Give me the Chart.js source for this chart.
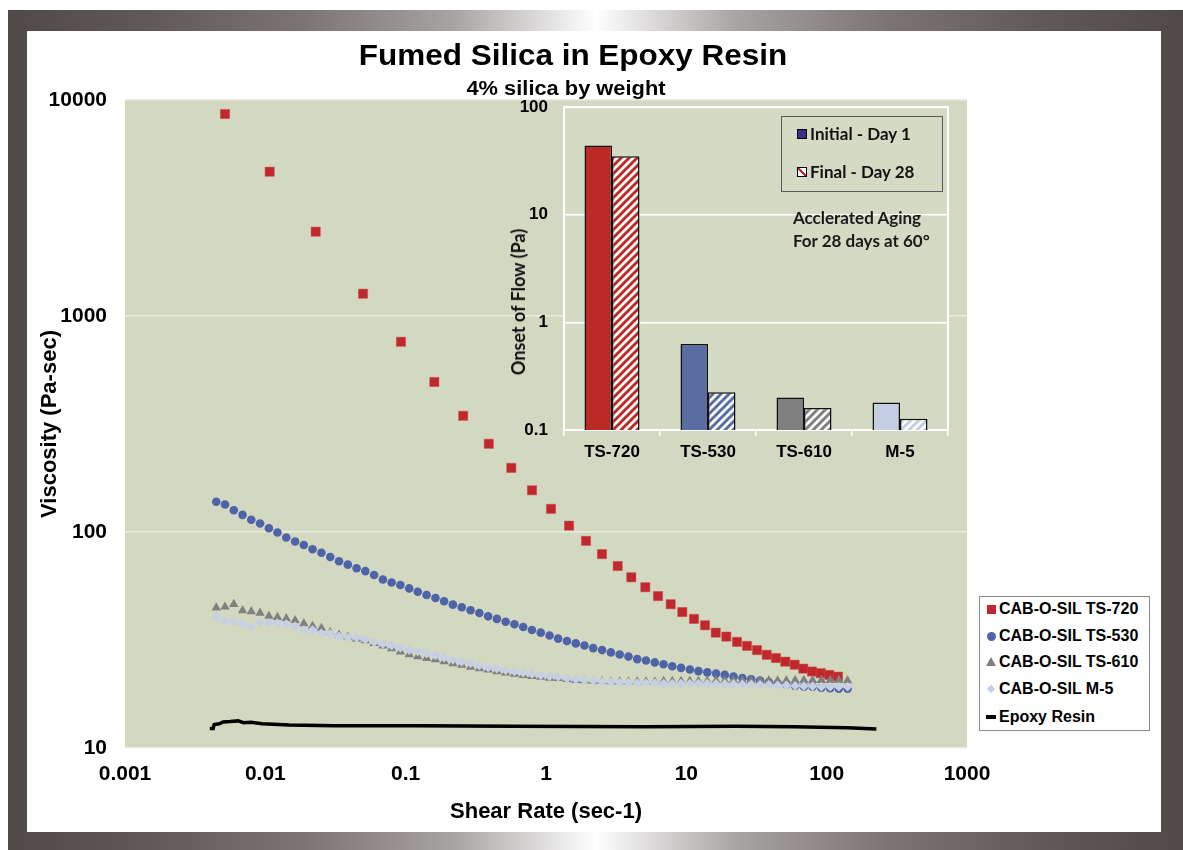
<!DOCTYPE html>
<html>
<head>
<meta charset="utf-8">
<script src="https://cdn.jsdelivr.net/npm/chart.js@4.4.1/dist/chart.umd.min.js"></script>
<style>
html,body{margin:0;padding:0;background:#fff;}
#wrap{position:relative;width:1183px;height:850px;overflow:hidden;font-family:"Liberation Sans",Arial,sans-serif;}
#frame{position:absolute;left:8px;top:10px;width:1175px;height:840px;
  background:linear-gradient(90deg,#4f4948 0%,#5f5958 12%,#7a7473 25%,#a8a4a3 38%,#e2e0e0 46%,#ffffff 50%,#e2e0e0 54%,#a8a4a3 62%,#7a7473 75%,#5f5958 88%,#4f4948 100%);}
#inner{position:absolute;left:27px;top:31px;width:1134px;height:801px;background:#fff;}
canvas{position:absolute;}
#main{left:0;top:0;}
#inset{left:490px;top:81px;}
.t{position:absolute;white-space:nowrap;font-weight:bold;color:#000;}
.lg{position:absolute;font-family:"Liberation Sans",Arial,sans-serif;font-weight:bold;font-size:16px;line-height:18px;white-space:nowrap;color:#000;}
.cal{font-family:Lato,"Open Sans",sans-serif;}
</style>
</head>
<body>
<div id="wrap">
  <div id="frame"></div>
  <div id="inner"></div>
  <canvas id="main" width="1183" height="850"></canvas>
  <canvas id="inset" width="475" height="399"></canvas>

  <div class="t" style="left:573px;top:41px;font-size:29px;line-height:29px;transform:translateX(-50%) scaleX(1.085);">Fumed Silica in Epoxy Resin</div>
  <div class="t" style="left:566px;top:78px;font-size:19.5px;line-height:20px;transform:translateX(-50%) scaleX(1.12);">4% silica by weight</div>

  <!-- main legend -->
  <div style="position:absolute;left:979px;top:596px;width:169px;height:133px;border:1px solid #8c8c8c;background:#fff;"></div>
  <div style="position:absolute;left:987px;top:605px;width:9px;height:9px;background:#c0282d;"></div>
  <div class="lg" style="left:999px;top:600px;">CAB-O-SIL TS-720</div>
  <div style="position:absolute;left:987px;top:632px;width:9px;height:9px;border-radius:50%;background:#4f63a8;"></div>
  <div class="lg" style="left:999px;top:627px;">CAB-O-SIL TS-530</div>
  <div style="position:absolute;left:986px;top:657px;width:0;height:0;border-left:5px solid transparent;border-right:5px solid transparent;border-bottom:9px solid #808080;"></div>
  <div class="lg" style="left:999px;top:653px;">CAB-O-SIL TS-610</div>
  <div style="position:absolute;left:988px;top:686px;width:6px;height:6px;transform:rotate(45deg);background:#c5cfe6;"></div>
  <div class="lg" style="left:999px;top:680px;">CAB-O-SIL M-5</div>
  <div style="position:absolute;left:986px;top:715px;width:10px;height:4px;background:#000;"></div>
  <div class="lg" style="left:999px;top:708px;">Epoxy Resin</div>

  <!-- inset legend and notes -->
  <div style="position:absolute;left:781px;top:116px;width:160px;height:74px;border:1px solid #5a5a5a;"></div>
  <div style="position:absolute;left:797px;top:129px;width:10px;height:10px;box-sizing:border-box;border:1px solid #000;background:#3c2d8a;"></div>
  <div class="t cal" style="left:810px;top:124px;font-size:17px;line-height:20px;color:#111;">Initial - Day 1</div>
  <div style="position:absolute;left:797px;top:167px;width:10px;height:10px;box-sizing:border-box;border:1px solid #000;background:linear-gradient(to top right,#fff 38%,#c0282d 38%,#c0282d 62%,#fff 62%);"></div>
  <div class="t cal" style="left:810px;top:162px;font-size:17px;line-height:20px;color:#111;">Final - Day 28</div>
  <div class="t cal" style="left:793px;top:208px;font-size:17px;line-height:20px;color:#1a1a1a;">Acclerated Aging</div>
  <div class="t cal" style="left:793px;top:231px;font-size:17px;line-height:20px;color:#1a1a1a;">For 28 days at 60°</div>
  <div class="t cal" style="left:518px;top:302px;font-size:18px;line-height:20px;color:#111;transform:translate(-50%,-50%) rotate(-90deg);">Onset of Flow (Pa)</div>
</div>

<script>
// ---------------- data ----------------
const xTickValues = [0.001, 0.01, 0.1, 1, 10, 100, 1000];
const xTickLabels = ["0.001", "0.01", "0.1", "1", "10", "100", "1000"];
const yTickValues = [10, 100, 1000, 10000];
const yTickLabels = ["10", "100", "1000", "10000"];

// shared shear-rate sweep (sec-1) for TS-530, TS-610 and M-5
const shearRate = [0.00447, 0.00516, 0.00596, 0.00688, 0.00794, 0.00917,
  0.0106, 0.0122, 0.0141, 0.0163, 0.0188, 0.0217, 0.0251, 0.0290, 0.0335, 0.0387,
  0.0447, 0.0516, 0.0596, 0.0688, 0.0794, 0.0917,
  0.106, 0.122, 0.141, 0.163, 0.188, 0.217, 0.251, 0.290, 0.335, 0.387,
  0.447, 0.516, 0.596, 0.688, 0.794, 0.917,
  1.06, 1.22, 1.41, 1.63, 1.88, 2.17, 2.51, 2.90, 3.35, 3.87,
  4.47, 5.16, 5.96, 6.88, 7.94, 9.17,
  10.6, 12.2, 14.1, 16.3, 18.8, 21.7, 25.1, 29.0, 33.5, 38.7,
  44.7, 51.6, 59.6, 68.8, 79.4, 91.7,
  106, 122, 141];

const ts530Viscosity = [138, 134, 126, 120, 114, 109.5, 104, 99.5, 94.3, 90.4,
  87.1, 83.2, 80.1, 76.6, 73.2, 70.6, 67.9, 65.9, 63.2, 60.3,
  58.4, 56.8, 54.8, 52.9, 51.1, 49.5, 47.8, 46.1, 44.8, 43.4,
  42.2, 40.7, 39.6, 38.4, 37.4, 36.3, 35.2, 34.2, 33.2, 32.1,
  31.3, 30.5, 29.8, 29.0, 28.4, 27.7, 27.1, 26.5, 25.8, 25.4,
  24.9, 24.4, 23.9, 23.5, 23.1, 22.7, 22.4, 22.1, 21.8, 21.4,
  21.1, 20.8, 20.5, 20.2, 19.9, 19.7, 19.4, 19.2, 19.2, 19.0,
  18.9, 18.8, 18.8];

const ts610Viscosity = [44.6, 45.0, 46.3, 43.3, 42.8, 42.2, 40.8, 40.3, 39.8, 39.0,
  37.7, 36.7, 35.9, 34.3, 33.4, 32.7, 32.0, 31.4, 30.5, 29.7,
  28.9, 27.9, 27.1, 26.5, 26.0, 25.7, 25.1, 24.6, 24.2, 23.7,
  23.3, 23.0, 22.6, 22.3, 22.0, 21.7, 21.5, 21.3, 21.1, 21.0,
  20.8, 20.6, 20.5, 20.4, 20.4, 20.3, 20.3, 20.3, 20.3, 20.3,
  20.3, 20.4, 20.4, 20.4, 20.4, 20.4, 20.4, 20.5, 20.5, 20.5,
  20.5, 20.5, 20.5, 20.5, 20.5, 20.5, 20.6, 20.6, 20.6, 20.6,
  20.6, 20.6, 20.5];

const m5Viscosity = [40.8, 38.7, 38.5, 37.5, 36.3, 38.1, 37.9, 37.9, 37.5, 36.6,
  35.2, 35.2, 34.0, 33.9, 32.9, 32.5, 32.4, 31.8, 30.9, 30.3,
  29.8, 29.1, 28.4, 28.0, 27.4, 26.8, 26.2, 25.6, 25.1, 24.7,
  24.1, 23.6, 23.3, 22.9, 22.6, 22.3, 22.0, 21.7, 21.5, 21.3,
  21.0, 20.8, 20.6, 20.5, 20.3, 20.2, 20.1, 20.1, 20.0, 20.0,
  20.0, 19.9, 19.9, 19.9, 19.9, 19.9, 19.9, 19.8, 19.8, 19.8,
  19.7, 19.7, 19.6, 19.6, 19.5, 19.5, 19.4, 19.3, 19.3, 19.2,
  19.2, 19.2, 19.2];

const ts720ShearRate = [0.00516, 0.01074, 0.02285, 0.0497, 0.0926, 0.160, 0.257, 0.391, 0.566, 0.795,
  1.086, 1.459, 1.928, 2.506, 3.243, 4.054, 5.102, 6.284, 7.739, 9.36,
  11.34, 13.59, 16.20, 19.27, 22.97, 27.06, 31.89, 37.39, 43.56, 50.75,
  59.19, 68.17, 78.63, 90.7, 104.4, 120.5];
const ts720Viscosity = [8612, 4657, 2457, 1268, 760, 495, 345, 256, 198, 156,
  128, 107, 91, 79, 69.6, 61.7, 55.5, 50.5, 46.3, 42.6,
  39.6, 37.0, 34.2, 32.8, 31.0, 29.7, 28.4, 27.0, 26.1, 25.1,
  24.3, 23.3, 22.6, 22.2, 21.8, 21.4];

const epoxyShearRate = [0.00402, 0.00425, 0.00432, 0.00470, 0.00500, 0.00560, 0.00640, 0.00700,
  0.00790, 0.0095, 0.0148, 0.0309, 0.124, 0.577, 5.16, 22.5, 58.3, 140, 226];
const epoxyViscosity = [12.30, 12.30, 12.85, 12.95, 13.20, 13.25, 13.35, 13.10,
  13.15, 12.95, 12.78, 12.68, 12.68, 12.60, 12.55, 12.60, 12.55, 12.41, 12.24];

// inset bar chart
const insetCategories = ["TS-720", "TS-530", "TS-610", "M-5"];
const onsetInitial = [44, 0.63, 0.20, 0.18];
const onsetFinal = [35, 0.224, 0.16, 0.127];
const insetTickValues = [0.1, 1, 10, 100];
const insetTickLabels = ["0.1", "1", "10", "100"];

// ---------------- styles ----------------
const ARIAL = '"Liberation Sans", Arial, sans-serif';
const initialColors = ['#bc2a26', '#5a6da3', '#808080', '#c4cfe3'];
const hatchColors = ['#bc2a26', '#5a6da3', '#808080', '#c4cfe3'];

const plotBg = {
  id: 'plotBg',
  beforeDraw(chart, args, opts) {
    const {ctx, chartArea: a} = chart;
    ctx.save();
    ctx.fillStyle = opts.color;
    ctx.fillRect(a.left, a.top, a.right - a.left, a.bottom - a.top);
    ctx.restore();
  }
};
const plotBorder = {
  id: 'plotBorder',
  beforeDatasetsDraw(chart, args, opts) {
    if (!opts.color) return;
    const {ctx, chartArea: a} = chart;
    ctx.save();
    ctx.strokeStyle = opts.color;
    ctx.lineWidth = 2;
    ctx.strokeRect(a.left, a.top, a.right - a.left, a.bottom - a.top);
    ctx.restore();
  }
};

const pts = (xs, ys) => xs.map((x, i) => ({x: x, y: ys[i]}));

new Chart(document.getElementById('main'), {
  type: 'scatter',
  data: {
    datasets: [
      {label: 'CAB-O-SIL TS-720', data: pts(ts720ShearRate, ts720Viscosity), pointStyle: 'rect',
       pointRadius: 6.5, backgroundColor: '#c0282d', borderColor: '#c94a4a', borderWidth: 0.5, order: 5},
      {label: 'CAB-O-SIL TS-530', data: pts(shearRate, ts530Viscosity), pointStyle: 'circle',
       pointRadius: 4.3, backgroundColor: '#4f63a8', borderWidth: 0, order: 4},
      {label: 'CAB-O-SIL TS-610', data: pts(shearRate, ts610Viscosity), pointStyle: 'triangle',
       pointRadius: 5.4, backgroundColor: '#808080', borderWidth: 0, order: 3},
      {label: 'CAB-O-SIL M-5', data: pts(shearRate, m5Viscosity), pointStyle: 'rectRot',
       pointRadius: 4.8, backgroundColor: '#c5cfe6', borderWidth: 0, order: 2},
      {label: 'Epoxy Resin', data: pts(epoxyShearRate, epoxyViscosity), showLine: true, pointRadius: 0,
       borderColor: '#000', borderWidth: 3.5, tension: 0, order: 1}
    ]
  },
  options: {
    responsive: false, animation: false, events: [],
    layout: {padding: {left: 30, top: 100, right: 216, bottom: 20}},
    plugins: {legend: {display: false}, tooltip: {enabled: false}, plotBg: {color: '#d3d8c1'}, plotBorder: {color: null}},
    scales: {
      x: {
        type: 'logarithmic', min: 0.001, max: 1000,
        afterBuildTicks: s => { s.ticks = xTickValues.map(v => ({value: v, major: true})); },
        afterFit: s => { s.height = 82; },
        ticks: {callback: (v, i) => xTickLabels[i], font: {family: ARIAL, size: 21, weight: 'bold'},
                color: '#000', padding: 14, maxRotation: 0, autoSkip: false},
        grid: {display: false, drawTicks: false},
        border: {display: false},
        title: {display: true, text: 'Shear Rate (sec-1)', color: '#000',
                font: {family: ARIAL, size: 22, weight: 'bold'}, padding: {top: 0, bottom: 5}}
      },
      y: {
        type: 'logarithmic', min: 10, max: 10000,
        afterBuildTicks: s => { s.ticks = yTickValues.map(v => ({value: v, major: true})); },
        afterFit: s => { s.width = 95; },
        ticks: {callback: (v, i) => yTickLabels[i], font: {family: ARIAL, size: 21, weight: 'bold'},
                color: '#000', padding: 18, autoSkip: false},
        grid: {color: '#eaede0', lineWidth: 1.5, drawTicks: false},
        border: {display: false},
        title: {display: true, text: 'Viscosity (Pa-sec)', color: '#000',
                font: {family: ARIAL, size: 22, weight: 'bold'}, padding: {top: 7, bottom: 0}}
      }
    }
  },
  plugins: [plotBg, plotBorder]
});

const insetCanvas = document.getElementById('inset');
const ictx = insetCanvas.getContext('2d');
function hatch(color) {
  const c = document.createElement('canvas');
  c.width = 8; c.height = 8;
  const g = c.getContext('2d');
  g.fillStyle = '#fff'; g.fillRect(0, 0, 8, 8);
  g.strokeStyle = color; g.lineWidth = 3;
  g.beginPath();
  g.moveTo(-2, 10); g.lineTo(10, -2);
  g.moveTo(-6, 6); g.lineTo(6, -6);
  g.moveTo(2, 14); g.lineTo(14, 2);
  g.stroke();
  return ictx.createPattern(c, 'repeat');
}

new Chart(insetCanvas, {
  type: 'bar',
  data: {
    labels: insetCategories,
    datasets: [
      {label: 'Initial - Day 1', data: onsetInitial, backgroundColor: initialColors,
       borderColor: '#111', borderWidth: 1.5},
      {label: 'Final - Day 28', data: onsetFinal, backgroundColor: hatchColors.map(hatch),
       borderColor: '#111', borderWidth: 1.5}
    ]
  },
  options: {
    responsive: false, animation: false, events: [],
    layout: {padding: {left: 20, top: 0, right: 17, bottom: 10}},
    datasets: {bar: {categoryPercentage: 0.573, barPercentage: 1}},
    plugins: {legend: {display: false}, tooltip: {enabled: false}, plotBg: {color: '#d5dac4'}, plotBorder: {color: '#ffffff'}},
    scales: {
      x: {
        afterFit: s => { s.height = 40; },
        grid: {display: true, drawOnChartArea: false, drawTicks: true, tickLength: 6, color: '#ffffff', lineWidth: 1.5, offset: true},
        border: {display: false},
        ticks: {font: {family: ARIAL, size: 17, weight: 'bold'}, color: '#000', padding: 6}
      },
      y: {
        type: 'logarithmic', min: 0.1, max: 100,
        afterBuildTicks: s => { s.ticks = insetTickValues.map(v => ({value: v, major: true})); },
        afterFit: s => { s.width = 54; },
        ticks: {callback: (v, i) => insetTickLabels[i], font: {family: ARIAL, size: 17, weight: 'bold'},
                color: '#000', padding: 16, autoSkip: false},
        grid: {color: '#ffffff', lineWidth: 1.5, drawTicks: false},
        border: {display: false}
      }
    }
  },
  plugins: [plotBg, plotBorder]
});
</script>
</body>
</html>
